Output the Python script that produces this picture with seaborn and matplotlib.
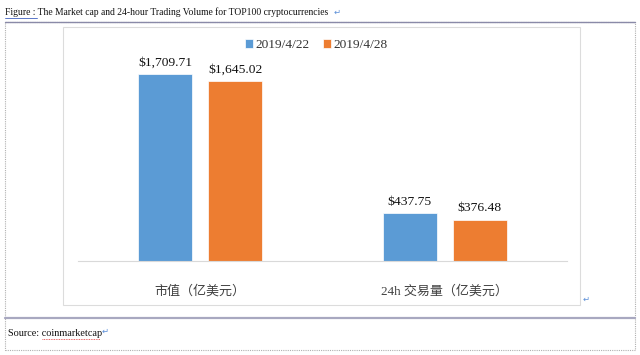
import numpy as np
import pandas as pd
import matplotlib
matplotlib.use("Agg")
import matplotlib.pyplot as plt
import seaborn as sns

# data
categories = ["市值（亿美元）", "24h 交易量（亿美元）"]
dates = ["2019/4/22", "2019/4/28"]
values_0422 = [1709.71, 437.75]
values_0428 = [1645.02, 376.48]
colors = ["#5B9BD5", "#ED7D31"]

df = pd.DataFrame({
    "category": categories * 2,
    "date": [dates[0]] * 2 + [dates[1]] * 2,
    "value": values_0422 + values_0428,
})

sns.set_theme(style="white")
fonts = ["Liberation Serif", "Noto Sans CJK SC", "DejaVu Sans"]
plt.rcParams["font.family"] = fonts

W, H = 640, 355
fig = plt.figure(figsize=(6.4, 3.55), dpi=100)

def fx(x):
    return x / W

def fy(y):
    return 1 - y / H

# document frame
fig.add_artist(plt.Rectangle((fx(5), fy(350)), fx(630), (350 - 22) / H, fill=False,
                             edgecolor="#b0b0b0", lw=0.8, ls=(0, (1, 1)),
                             transform=fig.transFigure))
fig.add_artist(plt.Line2D([fx(5), fx(635)], [fy(22), fy(22)], color="#8a8aa8", lw=1.0,
                          transform=fig.transFigure))
fig.add_artist(plt.Line2D([fx(5), fx(635)], [fy(318), fy(318)], color="#a8a8c0", lw=1.6,
                          transform=fig.transFigure))
# chart box
fig.add_artist(plt.Rectangle((fx(63), fy(305)), fx(517), (305 - 27) / H, fill=False,
                             edgecolor="#dcdcdc", lw=0.8, transform=fig.transFigure))

# title / source
fig.text(fx(5), fy(12), "Figure : The Market cap and 24-hour Trading Volume for TOP100 cryptocurrencies",
         fontsize=6.9, va="center", ha="left", color="#111111")
fig.add_artist(plt.Line2D([fx(5), fx(37)], [fy(18), fy(18)], color="#4060c0", lw=0.6,
                          transform=fig.transFigure))
fig.text(fx(334), fy(12), "↵", fontsize=6, va="center", color="#5b8fd8", family="DejaVu Sans")
fig.text(fx(8), fy(334), "Source: coinmarketcap", fontsize=7.4, va="center", ha="left", color="#111111")
fig.add_artist(plt.Line2D([fx(42), fx(100)], [fy(339), fy(339)], color="#e03030", lw=0.6,
                          ls=(0, (1, 1)), transform=fig.transFigure))
fig.text(fx(102), fy(331), "↵", fontsize=6, va="center", color="#5b8fd8", family="DejaVu Sans")
fig.text(fx(583), fy(299), "↵", fontsize=6, va="center", color="#5b8fd8", family="DejaVu Sans")

# plot area
ax = fig.add_axes([fx(78), fy(261), 489 / W, (261 - 40) / H])
sns.barplot(data=df, x="category", y="value", hue="date", palette=colors, saturation=1,
            width=0.573, gap=0.23, ax=ax, legend=True, edgecolor="white", linewidth=0.5)
ax.set_xlim(-0.5, 1.5)
ax.set_ylim(0, 2020)
ax.set_xlabel("")
ax.set_ylabel("")
ax.set_yticks([])
ax.tick_params(axis="x", length=0, pad=17, labelsize=9.4, labelcolor="#404040")
for lab in ax.get_xticklabels():
    lab.set_family(fonts)
for s in ["top", "left", "right"]:
    ax.spines[s].set_visible(False)
ax.spines["bottom"].set_color("#d9d9d9")
ax.spines["bottom"].set_linewidth(0.8)
ax.patch.set_alpha(0)

for cont in ax.containers:
    ax.bar_label(cont, labels=["${:,.2f}".format(v) for v in cont.datavalues],
                 padding=4, fontsize=9.7, color="#111111")

ax.legend(loc="center", bbox_to_anchor=(fx(316), fy(45)), bbox_transform=fig.transFigure,
          ncol=2, frameon=False, fontsize=9.6, handlelength=0.6, handleheight=0.6,
          handletextpad=0.2, columnspacing=1.0, labelcolor="#333333")

fig.savefig("out.png", dpi=100)
